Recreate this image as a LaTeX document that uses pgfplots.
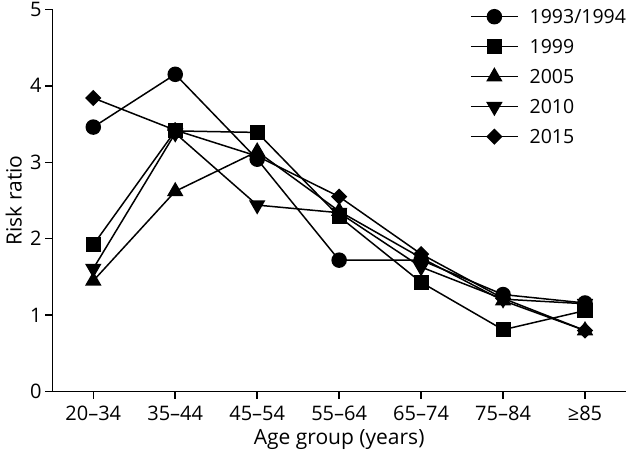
\documentclass[border=0pt]{standalone}
\usepackage{fontspec}
\setmainfont{Open Sans}
\usepackage{pgfplots}
\pgfplotsset{compat=1.18}
\begin{document}
\begin{tikzpicture}
\path[use as bounding box] (0,0) rectangle (628bp,453bp);
\begin{axis}[
  at={(52.3bp,61.3bp)}, anchor=south west,
  scale only axis, width=573.7bp, height=382.4bp,
  xmin=-0.5, xmax=6.5, ymin=0, ymax=5,
  axis lines=left,
  axis line style={-, line width=1.5bp},
  every tick/.style={black, line width=1.5bp},
  tick align=outside,
  major tick length=7bp,
  xtick={0,...,6},
  xticklabels={20–34,35–44,45–54,55–64,65–74,75–84,≥85},
  ytick={0,...,5},
  tick label style={font=\fontsize{20bp}{24bp}\selectfont, inner sep=0pt},
  xticklabel style={anchor=base, yshift=-22bp},
  yticklabel style={anchor=east, xshift=-3.6bp},
  label style={font=\fontsize{21bp}{25bp}\selectfont, inner sep=0pt},
  /pgf/number format/assume math mode=true,
  xlabel={Age group (years)},
  ylabel={Risk ratio},
  xlabel style={at={(axis description cs:0.5,-0.1368)}, anchor=base},
  ylabel style={at={(axis description cs:-0.0533,0.5)}, anchor=base},
  legend style={draw=none, fill=none, at={(1,1)}, anchor=north east,
    inner sep=0pt, outer sep=0pt,
    font=\fontsize{19.5bp}{23bp}\selectfont, row sep=0pt, column sep=11bp,
    nodes={inner sep=0pt, text height=22bp, text depth=8bp},
    legend cell align=left, yshift=7.6bp},
  legend image code/.code={\draw[mark repeat=2,mark phase=2] plot coordinates {(0bp,0bp) (23.5bp,0bp) (47bp,0bp)};},
  every axis plot/.append style={black, line width=1.5bp, mark options={solid,fill=black}},
  clip=false,
]
\addplot[mark=*, mark size=7bp] coordinates {(0,3.46) (1,4.15) (2,3.04) (3,1.72) (4,1.72) (5,1.27) (6,1.16)};
\addlegendentry{1993/1994}
\addplot[mark=square*, mark size=6.8bp] coordinates {(0,1.92) (1,3.41) (2,3.39) (3,2.29) (4,1.43) (5,0.81) (6,1.06)};
\addlegendentry{1999}
\addplot[mark=triangle*, mark size=8bp] coordinates {(0,1.45) (1,2.62) (2,3.14) (3,2.36) (4,1.75) (5,1.19) (6,0.80)};
\addlegendentry{2005}
\addplot[mark=triangle*, mark size=8bp, mark options={rotate=180}] coordinates {(0,1.61) (1,3.38) (2,2.44) (3,2.34) (4,1.63) (5,1.21) (6,1.15)};
\addlegendentry{2010}
\addplot[mark=square*, mark size=5bp, mark options={rotate=45}] coordinates {(0,3.84) (1,3.42) (2,3.08) (3,2.55) (4,1.80) (5,1.22) (6,0.80)};
\addlegendentry{2015}
\end{axis}
\end{tikzpicture}
\end{document}
